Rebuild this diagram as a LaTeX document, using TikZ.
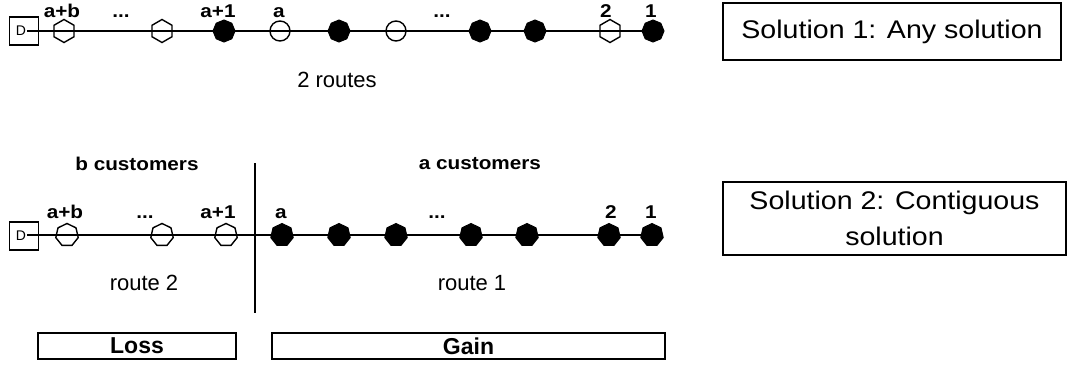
\documentclass[tikz,border=0pt]{standalone}
\usepackage{fontspec}
\setmainfont{Liberation Sans}
\newfontfamily\widefont{Liberation Sans}[FakeStretch=1.12]
\usetikzlibrary{shapes.geometric}

\begin{document}
\begin{tikzpicture}[x=1pt,y=-1pt,
  route/.style={line width=1.4pt},
  depot/.style={draw,line width=1.4pt,minimum width=29pt,minimum height=28pt,inner sep=0pt},
  depotlabel/.style={font=\fontsize{14}{14}\selectfont,inner sep=0pt},
  hexo/.style={draw,line width=1.4pt,regular polygon,regular polygon sides=6,
    shape border rotate=30,minimum size=23pt,inner sep=0pt},
  circo/.style={draw,line width=1.4pt,circle,minimum size=20pt,inner sep=0pt},
  octf/.style={draw,fill=black,line width=1pt,regular polygon,regular polygon sides=8,
    shape border rotate=22.5,minimum size=22pt,inner sep=0pt},
  hepo/.style={draw,line width=1.4pt,regular polygon,regular polygon sides=7,
    minimum size=23pt,inner sep=0pt},
  hepf/.style={draw,fill=black,line width=1pt,regular polygon,regular polygon sides=7,
    minimum size=23pt,inner sep=0pt},
  lab/.style={font=\widefont\bfseries\fontsize{18.5}{20}\selectfont,anchor=base,inner sep=0pt},
  plain/.style={font=\fontsize{22}{24}\selectfont,inner sep=0pt},
  sol/.style={draw,line width=1.2pt,font=\widefont\fontsize{25.5}{36}\selectfont,
    align=center,inner sep=0pt},
  tally/.style={draw,line width=1.4pt,font=\bfseries\fontsize{23}{24}\selectfont,
    minimum height=26pt,inner sep=0pt},
]
\useasboundingbox (0,0) rectangle (1070,376);

% ---- Solution 1: any solution ----
\node[depot] (dt) at (24,31) {};
\node[depotlabel] at (21,31) {D};
\coordinate (tstart) at (27,31);
\coordinate (t11c) at (653,31);
\draw[route] (tstart) -- (t11c);

\node[hexo]  (t1)  at (64,31)  {};
\node[hexo]  (t2)  at (162,31) {};
\node[octf]  (t3)  at (224,31) {};
\node[circo] (t4)  at (280,31) {};
\node[octf]  (t5)  at (339,31) {};
\node[circo] (t6)  at (396,31) {};
\node[octf]  (t7)  at (480,31) {};
\node[octf]  (t8)  at (535,31) {};
\node[hexo]  (t9)  at (610,31) {};
\node[octf]  (t10) at (653,31) {};

\node[lab] (tl1) at (62,17)  {a+b};
\node[lab] (tl2) at (121,17) {...};
\node[lab] (tl3) at (218,17) {a+1};
\node[lab] (tl4) at (279,17) {a};
\node[lab] (tl5) at (442,17) {...};
\node[lab] (tl6) at (606,17) {2};
\node[lab] (tl7) at (651,17) {1};

\node[plain] (routes) at (337,80) {2 routes};

\node[sol,minimum width=338pt,minimum height=57pt] (sol1) at (892,31.5) {Solution 1: Any solution};

% ---- Solution 2: contiguous solution ----
\node[depot] (db) at (24,236) {};
\node[depotlabel] at (21,236) {D};
\coordinate (bstart) at (27,235);
\coordinate (b10c) at (652,235);
\draw[route] (bstart) -- (b10c);

\node[hepo] (b1)  at (67,235)  {};
\node[hepo] (b2)  at (162,235) {};
\node[hepo] (b3)  at (226,235) {};
\node[hepf] (b4)  at (282,235) {};
\node[hepf] (b5)  at (339,235) {};
\node[hepf] (b6)  at (396,235) {};
\node[hepf] (b7)  at (471,235) {};
\node[hepf] (b8)  at (527,235) {};
\node[hepf] (b9)  at (609,235) {};
\node[hepf] (b10) at (652,235) {};

\node[lab] (bl1) at (65,218)  {a+b};
\node[lab] (bl2) at (145,218) {...};
\node[lab] (bl3) at (218,218) {a+1};
\node[lab] (bl4) at (281,218) {a};
\node[lab] (bl5) at (437,218) {...};
\node[lab] (bl6) at (611,218) {2};
\node[lab] (bl7) at (651,218) {1};

\coordinate (vtop) at (255,163);
\coordinate (vbot) at (255,313);
\draw[line width=1.4pt] (vtop) -- (vbot);

\node[lab,anchor=center] (bcust) at (137,164) {b customers};
\node[lab,anchor=center] (acust) at (480,164) {a customers};

\node[plain] (r2) at (144,283) {route 2};
\node[plain] (r1) at (472,283) {route 1};

\node[sol,minimum width=343pt,minimum height=73pt] (sol2) at (894.5,218.5)
  {Solution 2: Contiguous\\solution};

\node[tally,minimum width=198pt] (loss) at (137,346) {Loss};
\node[tally,minimum width=393pt] (gain) at (468.5,346) {Gain};
\end{tikzpicture}
\end{document}
